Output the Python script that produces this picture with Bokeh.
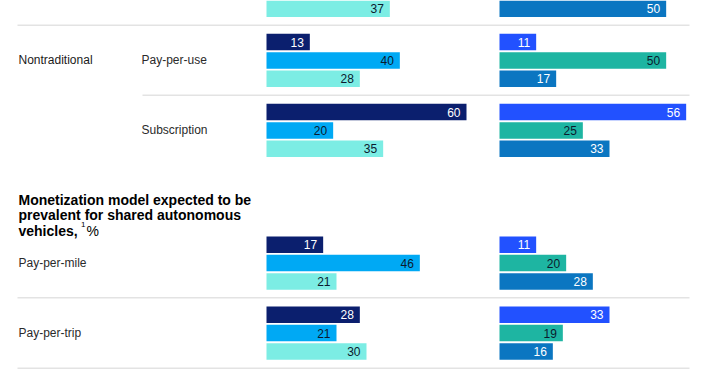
import math
from bokeh.plotting import figure
from bokeh.models import Range1d, ColumnDataSource
from bokeh.core.properties import value
from bokeh.embed import file_html
from bokeh.resources import INLINE

# ---------------- data ----------------
groups = ["(previous row)", "Pay-per-use", "Subscription", "Pay-per-mile", "Pay-per-trip"]
row_labels = ["", "Pay-per-use", "Subscription", "Pay-per-mile", "Pay-per-trip"]
category_labels = ["", "Nontraditional", "", "", ""]
nan = float("nan")
left_a = [nan, 13, 60, 17, 28]
left_b = [nan, 40, 20, 46, 21]
left_c = [37, 28, 35, 21, 30]
right_a = [nan, 11, 56, 11, 33]
right_b = [nan, 50, 25, 20, 19]
right_c = [50, 17, 33, 28, 16]
title_lines = ["Monetization model expected to be",
               "prevalent for shared autonomous",
               "vehicles,"]

# ---------------- layout ----------------
W, H = 708, 375
PX_PER_UNIT = 10 / 3
LEFT_ORIGIN_PX = 266
RIGHT_ORIGIN_PX = 499
RIGHT_OFFSET = (RIGHT_ORIGIN_PX - LEFT_ORIGIN_PX) / PX_PER_UNIT
GROUP_TOPS = [-36.7, 33.3, 103.3, 236.0, 306.0]
BAR_PITCH = 18.35
BAR_H = 16.5
FONT = "Liberation Sans"

def px(xpx):
    return (xpx - LEFT_ORIGIN_PX) / PX_PER_UNIT

left_cols = ["#0b1f6e", "#00a9f4", "#7cede4"]
left_txt = ["#ffffff", "#0b1a2e", "#0b1a2e"]
right_cols = ["#2251ff", "#1eb5a2", "#0b76c1"]
right_txt = ["#ffffff", "#0b1a2e", "#ffffff"]

p = figure(width=W, height=H, output_backend="svg", toolbar_location=None,
           x_range=Range1d(px(0), px(W)), y_range=Range1d(H, 0),
           min_border=0, outline_line_color=None, background_fill_color="white",
           border_fill_color="white")
p.axis.visible = False
p.grid.visible = False

series = [(left_a, left_b, left_c), (right_a, right_b, right_c)]
for side, (vals3, cols, tcols) in enumerate(zip(series, [left_cols, right_cols], [left_txt, right_txt])):
    base = 0 if side == 0 else RIGHT_OFFSET
    for i, vals in enumerate(vals3):
        ys, lefts, rights, labels = [], [], [], []
        for g, v in enumerate(vals):
            if v is None or (isinstance(v, float) and math.isnan(v)):
                continue
            ys.append(GROUP_TOPS[g] + i * BAR_PITCH + BAR_H / 2)
            lefts.append(base)
            rights.append(base + v)
            labels.append(str(int(v)))
        src = ColumnDataSource(dict(y=ys, left=lefts, right=rights, label=labels))
        p.hbar(y="y", left="left", right="right", height=BAR_H, source=src,
               fill_color=cols[i], line_color=None)
        p.text(x="right", y="y", text="label", source=src, x_offset=-6,
               text_align="right", text_baseline="middle",
               text_font=value(FONT), text_font_size="12px", text_color=tcols[i])

# separators
sep_y = [24.7, 94.7, 297.3, 367.7]
sep_x0 = [px(17), px(142), px(17), px(17)]
sep_x1 = [px(689)] * 4
p.segment(x0=sep_x0, y0=sep_y, x1=sep_x1, y1=sep_y, line_color="#e3e3e3", line_width=1.5)

# row / category labels
for g in range(len(groups)):
    center = GROUP_TOPS[g] + BAR_PITCH + BAR_H / 2
    if category_labels[g]:
        p.text(x=[px(18)], y=[center], text=[category_labels[g]], text_align="left",
               text_baseline="middle", text_font=value(FONT), text_font_size="12px",
               text_color="#1a1a1a")
    if row_labels[g]:
        lx = px(141) if g in (1, 2) else px(18)
        p.text(x=[lx], y=[center], text=[row_labels[g]], text_align="left",
               text_baseline="middle", text_font=value(FONT), text_font_size="12px",
               text_color="#2a2a2a")

# title
for k, line in enumerate(title_lines):
    p.text(x=[px(18)], y=[199 + k * 15.7], text=[line], text_align="left",
           text_baseline="alphabetic", text_font=value(FONT), text_font_size="14px",
           text_font_style="bold", text_color="#000000")
p.text(x=[px(80.5)], y=[224], text=["1"], text_align="left", text_baseline="alphabetic",
       text_font=value(FONT), text_font_size="8px", text_color="#000000")
p.text(x=[px(86)], y=[230.4], text=["%"], text_align="left", text_baseline="alphabetic",
       text_font=value(FONT), text_font_size="14px", text_color="#000000")

open("out.html", "w").write(file_html(p, INLINE))
